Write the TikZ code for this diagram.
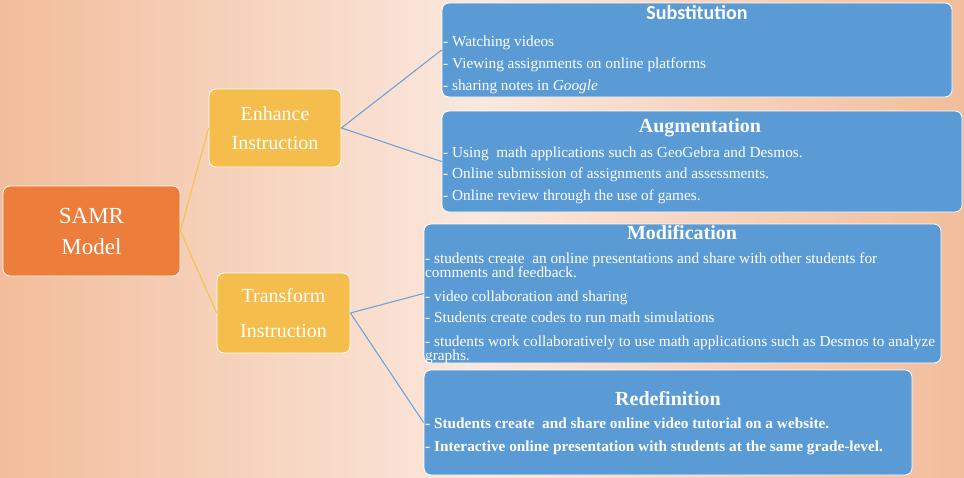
\documentclass[tikz,border=0pt]{standalone}
\usepackage{fontspec}
\setmainfont{Liberation Serif}
\newfontfamily\titlesans{Carlito}
\definecolor{bgedge}{HTML}{F2BD9B}
\definecolor{bglight}{HTML}{FBE8DE}
\definecolor{samrorange}{HTML}{ED7D3A}
\definecolor{midyellow}{HTML}{F5BD4B}
\definecolor{leafblue}{HTML}{5B9BD5}
\definecolor{linkblue}{HTML}{6FA3D6}
\definecolor{linkyellow}{HTML}{F5C24F}
\begin{document}
\begin{tikzpicture}[x=1pt,y=-1pt,
  box/.style={draw=white, line width=0.8pt, rounded corners=7pt, inner sep=0pt, text=white, align=center},
  rootbox/.style={box, fill=samrorange, font=\fontsize{23}{31}\selectfont},
  midbox/.style={box, fill=midyellow},
  leafbox/.style={box, fill=leafblue},
  leaftitle/.style={anchor=base, text=white, inner sep=0pt, font=\fontsize{20}{24}\bfseries\selectfont},
  item/.style={anchor=base west, text=white, inner sep=0pt, font=\fontsize{15.3}{18}\selectfont},
  wrapitem/.style={anchor=north west, text=white, inner sep=0pt, align=left, font=\fontsize{15.3}{14.2}\selectfont},
  bolditem/.style={item, font=\fontsize{15.3}{18}\bfseries\selectfont},
  yellowlink/.style={draw=linkyellow, line width=1.1pt},
  bluelink/.style={draw=linkblue, line width=1.1pt}
]
% backdrop
\useasboundingbox (0,0) rectangle (964,477);
\shade[left color=bgedge, right color=bgedge, middle color=bglight] (0,0) rectangle (964,477);

% hierarchy boxes
\node[rootbox, minimum width=177pt, minimum height=90pt] (samr) at (91.5,231) {SAMR\\Model};
\node[midbox, minimum width=132pt, minimum height=78pt, font=\fontsize{20}{29}\selectfont] (enh) at (275,128) {Enhance\\Instruction};
\node[midbox, minimum width=133pt, minimum height=80pt, font=\fontsize{20}{35}\selectfont] (trf) at (283.5,313) {Transform\\Instruction};

\node[leafbox, minimum width=510pt, minimum height=94pt] (sub) at (697,50) {};
\node[leafbox, minimum width=520pt, minimum height=101pt] (aug) at (702,161.5) {};
\node[leafbox, minimum width=517pt, minimum height=139pt] (mod) at (682.5,293.5) {};
\node[leafbox, minimum width=488pt, minimum height=105pt] (red) at (668,422.5) {};

% connectors
\draw[yellowlink] (samr.east) -- (enh.west);
\draw[yellowlink] (samr.east) -- (trf.west);
\draw[bluelink] (enh.east) -- (sub.west);
\draw[bluelink] (enh.east) -- (aug.west);
\draw[bluelink] (trf.east) -- (mod.west);
\draw[bluelink] (trf.east) -- (red.west);

% Substitution
\node[leaftitle, font=\fontsize{20}{24}\titlesans\bfseries\selectfont] (subT) at (697,19.1) {Substitution};
\node[item] (sub1) at (443,46.5) {- Watching videos};
\node[item] (sub2) at (443,68.2) {- Viewing assignments on online platforms};
\node[item] (sub3) at (443,90.5) {- sharing notes in \textit{Google}};

% Augmentation
\node[leaftitle] (augT) at (700,132.6) {Augmentation};
\node[item] (aug1) at (443,157) {- Using\ \ math applications such as GeoGebra and Desmos.};
\node[item] (aug2) at (443,178.7) {- Online submission of assignments and assessments.};
\node[item] (aug3) at (443,200.4) {- Online review through the use of games.};

% Modification (wrapped items set as one block each)
\node[leaftitle] (modT) at (682,239.3) {Modification};
\node[wrapitem] (mod1) at (425,252.2) {- students create\ \ an online presentations and share with other students for\\comments and feedback.};
\node[item] (mod2) at (425,301.6) {- video collaboration and sharing};
\node[item] (mod3) at (425,322.6) {- Students create codes to run math simulations};
\node[wrapitem] (mod4) at (425,335.2) {- students work collaboratively to use math applications such as Desmos to analyze\\graphs.};

% Redefinition
\node[leaftitle] (redT) at (668,405.2) {Redefinition};
\node[bolditem] (red1) at (425,428.2) {- Students create\ \ and share online video tutorial on a website.};
\node[bolditem] (red2) at (425,451.6) {- Interactive online presentation with students at the same grade-level.};
\end{tikzpicture}
\end{document}
